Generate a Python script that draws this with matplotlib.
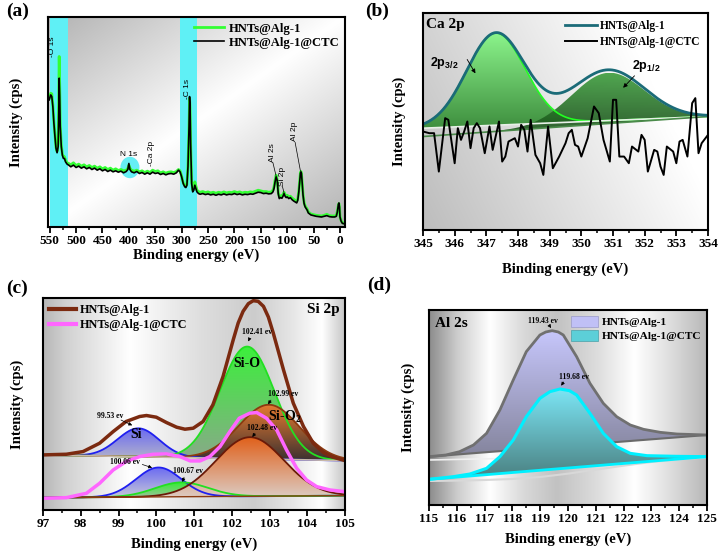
import numpy as np
import matplotlib
matplotlib.use('Agg')
import matplotlib.pyplot as plt
from matplotlib.colors import LinearSegmentedColormap
from matplotlib.patches import Ellipse, Patch
from matplotlib.lines import Line2D
from matplotlib.path import Path

SERIF = 'Liberation Serif'
SANS = 'Liberation Sans'
plt.rcParams['font.family'] = SERIF
plt.rcParams['font.weight'] = 'bold'
plt.rcParams['axes.labelweight'] = 'bold'
plt.rcParams['mathtext.fontset'] = 'custom'
plt.rcParams['mathtext.rm'] = 'Liberation Serif:bold'
plt.rcParams['mathtext.it'] = 'Liberation Serif:bold'
plt.rcParams['mathtext.bf'] = 'Liberation Serif:bold'
plt.rcParams['mathtext.sf'] = 'Liberation Sans:bold'

# ---------------- data: (a) survey ----------------
a_be = [551, 548, 546, 544, 542, 540, 538, 536, 534, 533,
        532, 531, 530, 528, 526, 524, 522, 520, 517, 514,
        510, 505, 500, 495, 490, 485, 480, 475, 470, 465,
        460, 455, 450, 445, 440, 435, 430, 425, 420, 415,
        410, 405, 402, 400, 398, 395, 390, 385, 380, 375,
        370, 365, 360, 355, 350, 345, 340, 335, 330, 325,
        320, 315, 310, 306, 303, 300, 297, 294, 292, 290,
        288, 286, 285, 284, 283, 281, 279, 277, 275, 273,
        271, 268, 265, 260, 255, 250, 245, 240, 235, 230,
        225, 220, 215, 210, 205, 200, 195, 190, 185, 180,
        175, 170, 165, 160, 155, 150, 145, 140, 135, 130,
        127, 125, 123, 121, 119, 117, 115, 113, 110, 108,
        106, 104, 102, 100, 97, 94, 91, 88, 85, 82,
        80, 78, 76, 75, 74, 73, 72, 70, 68, 66,
        64, 62, 60, 55, 50, 45, 40, 35, 30, 25,
        20, 15, 10, 7, 5, 3, 2, 1, 0, -2,
        -4, -6, -9]
a_ctc = [380, 395, 390, 360, 310, 270, 235, 222, 240, 320,
         445, 390, 300, 240, 215, 205, 205, 195, 188, 185,
         180, 185, 178, 182, 176, 180, 174, 178, 172, 176,
         170, 174, 168, 172, 166, 170, 165, 168, 164, 167,
         162, 166, 172, 190, 172, 165, 162, 166, 160, 163,
         158, 162, 158, 164, 160, 162, 157, 160, 156, 159,
         160, 158, 162, 170, 165, 150, 130, 120, 118, 125,
         180, 300, 390, 360, 250, 130, 105, 110, 125, 115,
         105, 100, 98, 100, 97, 99, 96, 98, 95, 98,
         96, 99, 96, 98, 97, 100, 97, 99, 96, 98,
         97, 99, 98, 101, 104, 103, 100, 101, 99, 100,
         105, 115, 135, 150, 140, 100, 85, 88, 86, 92,
         100, 92, 88, 90, 85, 88, 82, 78, 75, 72,
         80, 105, 140, 160, 165, 160, 140, 95, 70, 60,
         55, 50, 42, 36, 34, 32, 31, 30, 32, 34,
         31, 30, 30, 32, 45, 68, 72, 60, 30, 18,
         12, 10, 10]
a_alg = [385, 400, 398, 365, 315, 275, 238, 226, 250, 360,
         510, 420, 305, 245, 218, 210, 210, 200, 192, 190,
         186, 192, 184, 188, 182, 186, 180, 184, 178, 182,
         176, 180, 174, 178, 172, 176, 170, 174, 169, 172,
         168, 170, 175, 185, 176, 170, 167, 170, 165, 168,
         163, 167, 163, 170, 166, 168, 162, 165, 161, 164,
         165, 163, 166, 172, 168, 152, 132, 124, 122, 128,
         182, 300, 385, 355, 250, 135, 110, 116, 135, 122,
         110, 106, 104, 106, 103, 105, 102, 104, 101, 104,
         102, 105, 102, 104, 103, 106, 103, 105, 102, 104,
         103, 105, 104, 107, 110, 108, 106, 106, 104, 105,
         110, 120, 140, 155, 142, 104, 90, 93, 92, 97,
         104, 97, 93, 95, 90, 92, 87, 83, 80, 76,
         84, 108, 142, 162, 166, 160, 140, 98, 73, 63,
         58, 53, 45, 39, 37, 35, 34, 33, 35, 38,
         34, 33, 33, 34, 47, 66, 70, 60, 32, 20,
         14, 12, 11]
a_bands = [(548.5, 515.0), (303.5, 270.5)]
a_ticks = [550, 500, 450, 400, 350, 300, 250, 200, 150, 100, 50, 0]

# ---------------- data: (b) Ca 2p ----------------
b_be = [345.0, 345.2, 345.35, 345.5, 345.7, 345.8, 346.0, 346.1, 346.2, 346.3,
        346.4, 346.5, 346.6, 346.7, 346.8, 346.95, 347.1, 347.2, 347.4, 347.5,
        347.6, 347.7, 347.9, 348.0, 348.1, 348.2, 348.3, 348.4, 348.55, 348.7,
        348.8, 348.95, 349.1, 349.3, 349.5, 349.6, 349.7, 349.8, 349.9, 350.0,
        350.2, 350.4, 350.55, 350.7, 350.9, 351.0, 351.1, 351.2, 351.35, 351.5,
        351.6, 351.8, 351.9, 352.0, 352.1, 352.3, 352.4, 352.5, 352.6, 352.7,
        352.9, 353.0, 353.1, 353.2, 353.35, 353.5, 353.6, 353.7, 353.8, 354.0]
b_ctc = [295, 290, 290, 175, 335, 330, 200, 305, 270, 295,
         325, 245, 305, 320, 305, 230, 310, 240, 325, 205,
         220, 265, 275, 250, 315, 300, 235, 330, 225, 200,
         165, 310, 185, 220, 260, 290, 300, 255, 250, 220,
         275, 370, 350, 270, 205, 390, 390, 220, 220, 200,
         250, 235, 285, 270, 175, 240, 235, 190, 165, 250,
         235, 200, 265, 270, 220, 380, 395, 230, 260, 285]
b_centers = [347.3, 350.84]
b_heights = [276, 152]
b_sigmas = [0.92, 1.15]
b_base1 = [305, 340]      # at 345 and 354 eV
b_base2 = [280, 340]
b_ticks = [345, 346, 347, 348, 349, 350, 351, 352, 353, 354]

# ---------------- data: (c) Si 2p ----------------
c_env1_x = [97.0, 97.62, 98.06, 98.5, 98.86, 99.2, 99.56, 99.74, 100.0, 100.27,
            100.54, 100.76, 100.98, 101.24, 101.5, 101.77, 102.04, 102.17, 102.3, 102.44,
            102.57, 102.7, 102.84, 102.97, 103.1, 103.37, 103.63, 103.9, 104.16, 104.43,
            104.69, 105.0]
c_env1_y = [165, 167, 175, 200, 235, 265, 280, 283, 278, 262,
            248, 242, 245, 265, 315, 400, 510, 560, 595, 618,
            627, 625, 610, 578, 530, 420, 320, 250, 200, 172,
            158, 148]
c_env2_x = [97.0, 97.62, 98.15, 98.5, 98.86, 99.2, 99.56, 99.92, 100.27, 100.63,
            100.9, 101.16, 101.42, 101.69, 101.95, 102.2, 102.48, 102.66, 102.92, 103.19,
            103.45, 103.72, 103.98, 104.25, 104.6, 105.0]
c_env2_y = [35, 37, 50, 80, 120, 145, 160, 167, 168, 160,
            147, 147, 160, 190, 235, 275, 290, 292, 275, 240,
            180, 125, 90, 70, 60, 55]
c_up_centers = [99.53, 102.41, 102.99]      # Si, Si-O, Si-O2
c_up_heights = [85, 336, 163]
c_up_sigmas = [0.55, 0.72, 0.8]
c_lo_centers = [100.06, 100.67, 102.48]
c_lo_heights = [88, 43, 177]
c_lo_sigmas = [0.6, 0.7, 0.9]
c_base_up = [165, 148]
c_base_lo = [37, 43]
c_ticks = [97, 98, 99, 100, 101, 102, 103, 104, 105]

# ---------------- data: (d) Al 2s ----------------
d_env1_x = [115, 115.6, 116.1, 116.6, 117.07, 117.55, 118.03, 118.5, 118.99, 119.2,
            119.43, 119.65, 119.83, 120.31, 120.79, 121.27, 121.75, 122.24, 122.72, 123.32,
            123.92, 125]
d_env1_y = [145, 150, 160, 180, 215, 285, 375, 460, 510, 519,
            523, 519, 510, 445, 365, 305, 265, 240, 227, 218,
            213, 210]
d_env2_x = [115, 115.87, 116.47, 117.07, 117.55, 118.03, 118.5, 118.99, 119.35, 119.71,
            120.05, 120.31, 120.79, 121.27, 121.75, 122.24, 122.84, 123.92, 125]
d_env2_y = [77, 85, 93, 110, 145, 195, 265, 320, 340, 348,
            343, 330, 275, 215, 175, 155, 148, 146, 145]
d_base_up = [145, 210]
d_base_lo = [77, 145]
d_shirley_x = [115, 116, 117, 118, 119, 120, 121, 122, 123, 124, 125]
d_shirley_y = [72, 73, 75, 78, 84, 94, 106, 118, 129, 137, 143]
d_ticks = [115, 116, 117, 118, 119, 120, 121, 122, 123, 124, 125]


def gauss(x, c, h, s):
    return h * np.exp(-(x - c) ** 2 / (2 * s * s))


def background(ax, xlim, ylim, func):
    X, Y = np.meshgrid(np.linspace(0, 1, 300), np.linspace(0, 1, 200))
    v = np.clip(func(X, Y), 0, 1)
    rgb = np.dstack([v, v, v])
    ax.imshow(rgb, extent=[xlim[0], xlim[1], ylim[0], ylim[1]], origin='lower',
              aspect='auto', zorder=0, interpolation='bilinear')


def gfill(ax, x, ylo, yhi, ctop, cbot, z, alpha=1.0):
    x = np.asarray(x, float)
    ylo = np.asarray(ylo, float)
    yhi = np.asarray(yhi, float)
    verts = np.concatenate([np.column_stack([x, yhi]), np.column_stack([x[::-1], ylo[::-1]])])
    path = Path(verts)
    cmap = LinearSegmentedColormap.from_list('g', [cbot, ctop])
    im = ax.imshow(np.linspace(0, 1, 256).reshape(-1, 1),
                   extent=[x.min(), x.max(), ylo.min(), yhi.max()], origin='lower',
                   aspect='auto', cmap=cmap, zorder=z, alpha=alpha, interpolation='bilinear')
    im.set_clip_path(path, ax.transData)


def style_axes(ax, ticks, xlim, ylim, minor=True):
    ax.set_xlim(*xlim)
    ax.set_ylim(*ylim)
    ax.set_yticks([])
    ax.set_xticks(ticks)
    if minor:
        mt = [(ticks[i] + ticks[i + 1]) / 2 for i in range(len(ticks) - 1)]
        ax.set_xticks(mt, minor=True)
    ax.tick_params(axis='x', which='major', direction='out', length=4, width=1.3,
                   labelsize=9.5, pad=2)
    ax.tick_params(axis='x', which='minor', direction='out', length=2.5, width=1.1)
    for s in ax.spines.values():
        s.set_linewidth(1.5)
        s.set_color('black')
        s.set_zorder(20)
    for lbl in ax.get_xticklabels():
        lbl.set_fontweight('bold')


fig = plt.figure(figsize=(7.22, 5.53), dpi=100)
W, H = 722.0, 553.0


def add_ax(l, t, r, b):
    return fig.add_axes([l / W, 1 - b / H, (r - l) / W, (b - t) / H])


# ================= (a) =================
ax = add_ax(48, 17, 345, 227)
xa, ya = (553.2, -9.5), (0, 628)
background(ax, xa, ya, lambda X, Y: 1 - 0.3 * np.abs(X - Y))
for b0, b1 in a_bands:
    ax.axvspan(b0, b1, color='#5ff0f5', zorder=1, lw=0)
ax.add_patch(Ellipse((398, 178), 36, 64, color='#66eef5', zorder=1.5, lw=0))
ax.plot(a_be, a_alg, color='#33ff33', lw=2.0, zorder=3, label='HNTs@Alg-1')
ax.plot(a_be, a_ctc, color='black', lw=1.2, zorder=4, label='HNTs@Alg-1@CTC')
ann = dict(family=SANS, fontsize=6, fontweight='normal', zorder=6)
ax.text(544, 508, '-O 1s', rotation=90, ha='center', va='bottom', **ann)
ax.text(288, 382, '-C 1s', rotation=90, ha='center', va='bottom', **ann)
ax.text(401, 218, 'N 1s', ha='center', va='center', **ann)
ax.text(357, 182, '-Ca 2p', rotation=90, ha='center', va='bottom', **ann)
ax.text(128, 195, 'Al 2s', rotation=90, ha='center', va='bottom', **ann)
ax.plot([127, 121], [192, 152], color='black', lw=0.5, zorder=6)
ax.text(109, 124, 'Si 2p', rotation=90, ha='center', va='bottom', **ann)
ax.plot([109, 106], [121, 102], color='black', lw=0.5, zorder=6)
ax.text(86, 257, 'Al 2p', rotation=90, ha='center', va='bottom', **ann)
ax.plot([85, 75], [253, 168], color='black', lw=0.5, zorder=6)
style_axes(ax, a_ticks, xa, ya, minor=True)
ax.set_xlabel('Binding energy (eV)', fontsize=10.5, labelpad=1)
ax.set_ylabel('Intensity (cps)', fontsize=10.5, labelpad=18)
leg = ax.legend(loc='upper right', frameon=False, handlelength=2.3, handletextpad=0.4,
                borderaxespad=0.05, labelspacing=0.15,
                prop={'family': SERIF, 'weight': 'bold', 'size': 9.1})
leg.set_zorder(10)

# ================= (b) =================
ax = add_ax(423, 13, 708, 230)
xb, yb = (345, 354), (0, 650)
background(ax, xb, yb, lambda X, Y: 0.74 + 0.26 * np.clip(0.95 * X + 0.35 * Y, 0, 1))
xs = np.linspace(345, 354, 400)
base1 = np.interp(xs, [345, 354], b_base1)
base2 = np.interp(xs, [345, 354], b_base2)
p1 = gauss(xs, b_centers[0], b_heights[0], b_sigmas[0])
p2 = gauss(xs, b_centers[1], b_heights[1], b_sigmas[1])
gfill(ax, xs, base1, base1 + p1, '#8cf58c', '#3f8f3f', 2)
gfill(ax, xs, base2, base2 + p2, '#3d9d3d', '#174a17', 2.5, alpha=0.9)
ax.plot(xs, base1 + p1, color='#22ff22', lw=1.2, zorder=3)
ax.plot(xs, base1, color='#e8f0e8', lw=1.2, zorder=3)
ax.plot(xs, base2, color='#4a8a4a', lw=1.2, zorder=3)
ax.plot(xs, base1 + p1 + p2, color='#1b6b78', lw=2.0, zorder=4, label='HNTs@Alg-1')
ax.plot(b_be, b_ctc, color='black', lw=1.4, zorder=5, label='HNTs@Alg-1@CTC')
ax.text(345.1, 615, 'Ca 2p', fontsize=11, fontweight='bold', va='center', ha='left', zorder=8)
ax.text(345.68, 500, r'$\mathsf{2p_{3/2}}$', fontsize=9, ha='center', va='center', zorder=8)
ax.annotate('', xy=(346.7, 462), xytext=(346.35, 518),
            arrowprops=dict(arrowstyle='-|>', lw=0.6, color='black', mutation_scale=6), zorder=8)
ax.text(352.05, 490, r'$\mathsf{2p_{1/2}}$', fontsize=9, ha='center', va='center', zorder=8)
ax.annotate('', xy=(351.26, 420), xytext=(351.74, 468),
            arrowprops=dict(arrowstyle='-|>', lw=0.6, color='black', mutation_scale=6), zorder=8)
style_axes(ax, b_ticks, xb, yb, minor=True)
ax.set_xlabel('Binding energy (eV)', fontsize=10.5, labelpad=9)
ax.set_ylabel('Intensity (cps)', fontsize=10.5, labelpad=12)
leg = ax.legend(loc='upper right', frameon=False, handlelength=2.7, handletextpad=0.3,
                borderaxespad=0.25, labelspacing=0.3,
                prop={'family': SERIF, 'weight': 'bold', 'size': 8.3})
leg.set_zorder(10)

# ================= (c) =================
ax = add_ax(43, 298, 345, 510)
xc, yc = (97, 105), (0, 635)
background(ax, xc, yc, lambda X, Y: np.interp(97 + 8 * X,
           [97, 97.6, 99.3, 100.3, 101.2, 102.6, 103.6, 104.4, 105],
           [0.72, 0.82, 1.0, 0.93, 0.87, 0.8, 0.9, 1.0, 0.78]))
xs = np.linspace(97, 105, 500)
bu = np.interp(xs, [97, 105], c_base_up)
bl = np.interp(xs, [97, 105], c_base_lo)
up_cols = [('#6a6af2', '#b8b8c8', '#2020f0'), ('#3cf03c', '#8aa88a', '#22e022'),
           ('#e47a30', '#3a3030', '#8b3a10')]
lo_cols = [('#6a6af2', '#c8c8d8', '#2020f0'), ('#33ee33', '#a0c0a0', '#22e022'),
           ('#e0601a', '#dcccc4', '#6a1a08')]
for c, h, s, (ct, cb, ce) in zip(c_up_centers, c_up_heights, c_up_sigmas, up_cols):
    g = gauss(xs, c, h, s)
    gfill(ax, xs, bu, bu + g, ct, cb, 2)
    ax.plot(xs, bu + g, color=ce, lw=1.3, zorder=3)
ax.plot(xs, bu, color='#c8b8a8', lw=1.2, zorder=3)
ax.plot(c_env1_x, c_env1_y, color='#7b2a10', lw=2.5, zorder=4, label='HNTs@Alg-1')
for c, h, s, (ct, cb, ce) in zip(c_lo_centers, c_lo_heights, c_lo_sigmas, lo_cols):
    g = gauss(xs, c, h, s)
    gfill(ax, xs, bl, bl + g, ct, cb, 4.5)
    ax.plot(xs, bl + g, color=ce, lw=1.3, zorder=5)
ax.plot(xs, bl, color='#8b3a10', lw=1.0, zorder=5)
ax.plot(c_env2_x, c_env2_y, color='#ff66ff', lw=2.5, zorder=6, label='HNTs@Alg-1@CTC')
small = dict(fontsize=5.5, fontweight='bold', ha='center', va='center', zorder=8)
arr = dict(arrowstyle='-|>', lw=0.5, color='black', mutation_scale=5)
ax.text(102.66, 532, '102.41 ev', **small)
ax.annotate('', xy=(102.41, 497), xytext=(102.5, 522), arrowprops=arr, zorder=8)
ax.text(102.39, 440, 'Si-O', fontsize=10, fontweight='bold', ha='center', va='center', zorder=8)
ax.text(103.35, 347, '102.99 ev', **small)
ax.annotate('', xy=(102.92, 310), xytext=(103.08, 336), arrowprops=arr, zorder=8)
ax.text(103.4, 280, r'Si-O$_2$', fontsize=10, fontweight='bold', ha='center', va='center', zorder=8)
ax.text(102.79, 245, '102.48 ev', **small)
ax.annotate('', xy=(102.5, 212), xytext=(102.66, 236), arrowprops=arr, zorder=8)
ax.text(98.77, 282, '99.53 ev', **small)
ax.annotate('', xy=(99.43, 250), xytext=(99.0, 273), arrowprops=arr, zorder=8)
ax.text(99.48, 225, 'Si', fontsize=10, fontweight='bold', ha='center', va='center', zorder=8)
ax.text(99.17, 143, '100.06 ev', **small)
ax.annotate('', xy=(99.96, 124), xytext=(99.56, 139), arrowprops=arr, zorder=8)
ax.text(100.85, 116, '100.67 ev', **small)
ax.annotate('', xy=(100.67, 76), xytext=(100.76, 106), arrowprops=arr, zorder=8)
ax.text(104.85, 600, 'Si 2p', fontsize=11, fontweight='bold', ha='right', va='center', zorder=8)
style_axes(ax, c_ticks, xc, yc, minor=True)
ax.set_xlabel('Binding energy (eV)', fontsize=10.5, labelpad=5)
ax.set_ylabel('Intensity (cps)', fontsize=10.5, labelpad=14)
leg = ax.legend(loc='upper left', frameon=False, handlelength=2.2, handletextpad=0.3,
                borderaxespad=0.1, labelspacing=0.25,
                prop={'family': SERIF, 'weight': 'bold', 'size': 8.8})
for ln in leg.get_lines():
    ln.set_linewidth(3)
leg.set_zorder(10)

# ================= (d) =================
ax = add_ax(429, 310, 707, 505)
xd, yd = (115, 125), (0, 585)
background(ax, xd, yd, lambda X, Y: np.interp(115 + 10 * X,
           [115, 116, 117.2, 118.4, 119.6, 121, 122.4, 123.6, 125],
           [0.55, 0.8, 1.0, 0.85, 0.76, 0.86, 1.0, 0.88, 0.72]))
bup = np.interp(d_env1_x, [115, 125], d_base_up)
blo = np.interp(d_env2_x, [115, 125], d_base_lo)
gfill(ax, d_env1_x, bup, d_env1_y, '#c6c6fb', '#84849c', 2)
ax.plot([115, 125], d_base_up, color='#6a6a6a', lw=1.5, zorder=3)
ax.plot([115, 118.5], [135, 141], color='#f0f0f0', lw=1.2, zorder=3)
ax.plot(d_shirley_x, d_shirley_y, color='#d8d8d8', lw=1.5, zorder=3)
ax.plot(d_env1_x, d_env1_y, color='#707070', lw=2.0, zorder=4)
gfill(ax, d_env2_x, blo, d_env2_y, '#7ce6f6', '#4a8080', 4.5)
ax.plot([115, 125], d_base_lo, color='#00f0ff', lw=2.0, zorder=5)
ax.plot(d_env2_x, d_env2_y, color='#00f0ff', lw=2.2, zorder=6)
ax.text(119.1, 552, '119.43 ev', **small)
ax.annotate('', xy=(119.45, 524), xytext=(119.3, 542), arrowprops=arr, zorder=8)
ax.text(120.22, 385, '119.68 ev', **small)
ax.annotate('', xy=(119.7, 351), xytext=(119.9, 376), arrowprops=arr, zorder=8)
ax.text(115.2, 545, 'Al 2s', fontsize=11, fontweight='bold', ha='left', va='center', zorder=8)
style_axes(ax, d_ticks, xd, yd, minor=True)
ax.set_xlabel('Binding energy (eV)', fontsize=10.5, labelpad=5)
ax.set_ylabel('Intensity (cps)', fontsize=10.5, labelpad=10)
handles = [Patch(facecolor='#c0c0f6', edgecolor='#9a9ac8', lw=0.5),
           Patch(facecolor='#5ccfd8', edgecolor='#4aa0a8', lw=0.5)]
leg = ax.legend(handles, ['HNTs@Alg-1', 'HNTs@Alg-1@CTC'], loc='upper right', frameon=False,
                handlelength=2.4, handleheight=1.2, handletextpad=0.3, borderaxespad=0.1,
                labelspacing=0.2, prop={'family': SERIF, 'weight': 'bold', 'size': 8.2})
leg.set_zorder(10)

# panel letters
for lab, x, y in [('(a)', 6, 3), ('(b)', 365, 3), ('(c)', 6, 280), ('(d)', 367, 277)]:
    fig.text(x / W, 1 - y / H, lab, fontsize=14, fontweight='bold', family=SERIF,
             ha='left', va='top')

fig.savefig('out.png', dpi=100)
